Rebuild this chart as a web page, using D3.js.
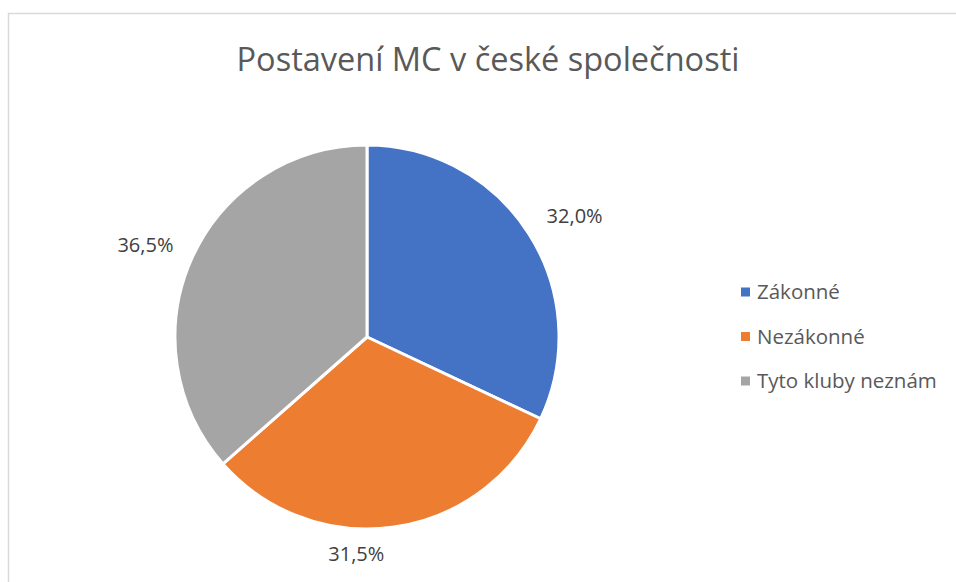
<!DOCTYPE html>
<html>
<head>
<meta charset="utf-8">
<script src="https://cdn.jsdelivr.net/npm/d3@7"></script>
<style>
  body { margin: 0; background: #fff; }
  svg { display: block; }
</style>
</head>
<body>
<svg id="chart" width="956" height="582"></svg>
<script>
var categories = ["Zákonné", "Nezákonné", "Tyto kluby neznám"];
var shares = [32.0, 31.5, 36.5];
var labelTexts = ["32,0%", "31,5%", "36,5%"];
var colors = ["#4472C4", "#ED7D31", "#A5A5A5"];

var svg = d3.select("#chart");
var width = 956, height = 582;

// chart area border (runs past the window right / bottom)
svg.append("rect")
  .attr("x", 8.5).attr("y", 13.5)
  .attr("width", 1000).attr("height", 1000)
  .attr("fill", "#fff")
  .attr("stroke", "#d9d9d9")
  .attr("stroke-width", 1.5);

// title
var title = svg.append("text")
  .attr("x", 488).attr("y", 71)
  .attr("text-anchor", "middle")
  .attr("fill", "#595959")
  .style("font-family", "Open Sans, sans-serif")
  .style("font-size", "34px")
  .text("Postavení MC v české společnosti");
var tw = title.node().getComputedTextLength();
title.style("font-size", (34 * 503 / tw) + "px");

var cx = 367, cy = 337, r = 192;

var pie = d3.pie().sort(null).value(function(d) { return d; });
var arcs = pie(shares);

var arc = d3.arc().innerRadius(0).outerRadius(r);

var g = svg.append("g").attr("transform", "translate(" + cx + "," + cy + ")");

g.selectAll("path")
  .data(arcs)
  .enter()
  .append("path")
  .attr("d", arc)
  .attr("fill", function(d, i) { return colors[i]; })
  .attr("stroke", "#fff")
  .attr("stroke-width", 3)
  .attr("stroke-linejoin", "round");

// data labels outside the pie
var labelR = r + 16;
var labelNudge = [[4, -10], [-40, -2], [-4, -6]];
g.selectAll("text.lbl")
  .data(arcs)
  .enter()
  .append("text")
  .attr("class", "lbl")
  .attr("x", function(d, i) {
    var a = (d.startAngle + d.endAngle) / 2;
    return labelR * Math.sin(a) + labelNudge[i][0];
  })
  .attr("y", function(d, i) {
    var a = (d.startAngle + d.endAngle) / 2;
    return -labelR * Math.cos(a) + labelNudge[i][1];
  })
  .attr("dy", function(d) {
    var a = (d.startAngle + d.endAngle) / 2;
    return Math.abs(Math.sin(a)) < 0.3 ? "1em" : "0.35em";
  })
  .attr("text-anchor", function(d) {
    var a = (d.startAngle + d.endAngle) / 2;
    var s = Math.sin(a);
    return Math.abs(s) < 0.3 ? "middle" : (s > 0 ? "start" : "end");
  })
  .attr("fill", "#404040")
  .style("font-family", "Open Sans, sans-serif")
  .style("font-size", "20px")
  .text(function(d, i) { return labelTexts[i]; });

// legend
var legendY = d3.scalePoint().domain(categories).range([292, 381]);
var legend = svg.append("g");
var items = legend.selectAll("g")
  .data(categories)
  .enter()
  .append("g")
  .attr("transform", function(d) { return "translate(741," + legendY(d) + ")"; });

items.append("rect")
  .attr("x", 0).attr("y", -4.5)
  .attr("width", 9).attr("height", 9)
  .attr("fill", function(d, i) { return colors[i]; });

items.append("text")
  .attr("x", 16).attr("y", 0)
  .attr("dy", "0.35em")
  .attr("fill", "#595959")
  .style("font-family", "Open Sans, sans-serif")
  .style("font-size", "20.5px")
  .text(function(d) { return d; });
</script>
</body>
</html>
